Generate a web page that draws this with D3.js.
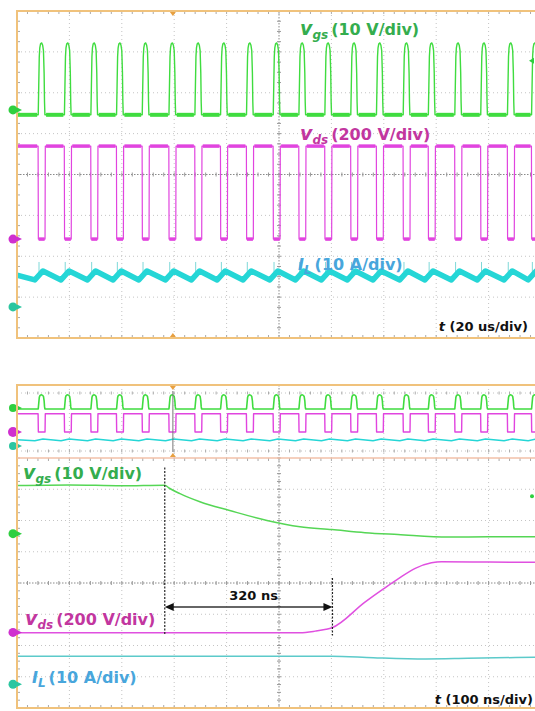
<!DOCTYPE html>
<html>
<head>
<meta charset="utf-8">
<title>Switching waveforms</title>
<script src="https://d3js.org/d3.v7.min.js"></script>
<style>
html, body { margin: 0; padding: 0; background: #fff; overflow: hidden; }
svg { display: block; font-family: "DejaVu Sans", sans-serif; }
</style>
</head>
<body>
<svg id="scope"></svg>
<script>
// ---- data ----
// gate pulse centres on the 20 us/div capture (us)
const pulseTimes = [9.4, 19.4, 29.5, 39.3, 49.1, 59.3, 69.2, 79.0, 88.9, 99.1,
                    108.9, 118.8, 128.7, 138.5, 148.7, 158.3, 168.4, 178.3, 188.5, 197.7];
// one switching event, [us from pulse centre, value]
const vgsPulse = [[-1.3, -1.2], [-1.1, 6], [-0.9, 13], [-0.7, 15.2], [-0.4, 16.2], [0, 16.4],
                  [0.4, 15.8], [0.7, 14.5], [0.95, 9], [1.1, 2], [1.25, -1.2]];
const vgsLow = -1.2;
const vdsPulse = [[-1.35, 455], [-1.25, 0], [1.3, 0], [1.4, 455]];
const vdsHigh = 455;
const ilPulse = [[-2.6, 6.6], [0.5, 8.8]];
const ilStart = [0, 7.8], ilEnd = [200, 8.2];
const ilSpike = [-1.0, 7.6, 11.0]; // rel time, base, top (A)
const triggerTime = 59.5; // us
const trigLevel = 12;     // V

// zoomed turn-off, [ns, value]
const vgsOff = [[0, 15.4], [100, 15.6], [200, 15.3], [282, 15.5], [290, 14.6], [311, 12.8],
                [349, 10.2], [406, 7.4], [477, 4.2], [540, 2.2], [601, 1.3], [664, 0.3],
                [727, -0.3], [823, -1.1], [900, -1.0], [1000, -1.0]];
const vdsOff = [[0, -3], [300, -3], [540, -2], [569, 8], [590, 20], [601, 30], [664, 194],
                [700, 280], [728, 344], [760, 410], [791, 445], [810, 452], [900, 450], [1000, 448]];
const ilOff = [[0, 9.0], [300, 9.0], [600, 9.0], [680, 8.5], [780, 8.1], [860, 8.3], [1000, 8.7]];
const turnOff = 282, delayNs = 320;

// ---- layout ----
const W = 535, H = 711;
const X0 = 17, X1 = 541;
const topBox = {y0: 11, y1: 338};
const ovBox = {y0: 385, y1: 458};
const zmBox = {y0: 458, y1: 708};

const ch = {
  vgs: {perDiv: 10, offset: 1.58, trace: "#3fdc3f", label: "#34ad4e", marker: "#2fcf3f", ov: 408},
  vds: {perDiv: 200, offset: -1.58, trace: "#e144df", label: "#c2369f", marker: "#cf2fcf", ov: 432},
  il: {perDiv: 10, offset: -3.24, trace: "#25d6d6", label: "#48a6dc", marker: "#2cc6a0", ov: 446}
};

const svg = d3.select("#scope").attr("width", W).attr("height", H);
svg.append("rect").attr("width", W).attr("height", H).attr("fill", "#fff");

const xUs = d3.scaleLinear().domain([0, 200]).range([X0, X1]);
const xNs = d3.scaleLinear().domain([0, 1000]).range([X0, X1]);
const yTop = d3.scaleLinear().domain([-4, 4]).range([topBox.y1, topBox.y0]);
const yZm = d3.scaleLinear().domain([-4, 4]).range([zmBox.y1, zmBox.y0]);

function chScale(yDiv, c) {
  return v => yDiv(c.offset + v / c.perDiv);
}
function ovScale(c) {
  return d3.scaleLinear().domain([0, c.perDiv]).range([c.ov, c.ov - 8]);
}

const defs = svg.append("defs");
function clip(id, y0, y1) {
  defs.append("clipPath").attr("id", id).append("rect")
    .attr("x", X0).attr("y", y0).attr("width", X1 - X0).attr("height", y1 - y0);
  return "url(#" + id + ")";
}

// grid with dotted divisions, darker centre lines and minor ticks
function grid(y0, y1, ny) {
  const g = svg.append("g");
  const dx = (X1 - X0) / 10, dy = (y1 - y0) / ny;
  const cx = X0 + 5 * dx, cy = y0 + ny / 2 * dy;
  for (let i = 1; i < 10; i++) {
    g.append("line").attr("x1", X0 + i * dx).attr("x2", X0 + i * dx).attr("y1", y0).attr("y2", y1)
      .attr("stroke", i === 5 ? "#8a8a8a" : "#c4c4c4")
      .attr("stroke-dasharray", i === 5 ? "1.5,1.5" : "1,3");
  }
  for (let j = 1; j < ny; j++) {
    g.append("line").attr("x1", X0).attr("x2", X1).attr("y1", y0 + j * dy).attr("y2", y0 + j * dy)
      .attr("stroke", j === ny / 2 ? "#8a8a8a" : "#c4c4c4")
      .attr("stroke-dasharray", j === ny / 2 ? "1.5,1.5" : "1,3");
  }
  for (let k = 0; k <= 50; k++) {
    const x = X0 + k * dx / 5;
    g.append("line").attr("x1", x).attr("x2", x).attr("y1", cy - 2).attr("y2", cy + 2).attr("stroke", "#999");
    g.append("line").attr("x1", x).attr("x2", x).attr("y1", y0).attr("y2", y0 + 3).attr("stroke", "#aaa");
    g.append("line").attr("x1", x).attr("x2", x).attr("y1", y1 - 3).attr("y2", y1).attr("stroke", "#aaa");
  }
  for (let k = 0; k <= ny * 4; k++) {
    const y = y0 + k * dy / 4;
    g.append("line").attr("x1", cx - 2).attr("x2", cx + 2).attr("y1", y).attr("y2", y).attr("stroke", "#999");
    g.append("line").attr("x1", X0).attr("x2", X0 + 3).attr("y1", y).attr("y2", y).attr("stroke", "#aaa");
  }
}

// periodic trace built from the pulse list
function periodic(shape, start, end) {
  const pts = [start];
  pulseTimes.forEach(tc => shape.forEach(([dt, v]) => pts.push([tc + dt, v])));
  pts.push(end);
  return pts;
}
function plateaus(pad, level) {
  const segs = [];
  const edges = [-Infinity, ...pulseTimes, Infinity];
  for (let i = 0; i < edges.length - 1; i++) {
    const a = Math.max(0, edges[i] + pad), b = Math.min(200, edges[i + 1] - pad);
    if (b > a) segs.push([[a, level], [b, level]]);
  }
  return segs;
}

function trace(g, pts, x, y, color, width, curve) {
  const line = d3.line().x(d => x(d[0])).y(d => y(d[1]));
  if (curve) line.curve(curve);
  g.append("path").attr("d", line(pts)).attr("fill", "none")
    .attr("stroke", color).attr("stroke-width", width).attr("stroke-linejoin", "round");
}

function groundMarker(y, color, r) {
  svg.append("circle").attr("cx", 13).attr("cy", y).attr("r", r || 4.5).attr("fill", color);
  svg.append("path").attr("d", `M17,${y - 2.5}L22,${y}L17,${y + 2.5}Z`).attr("fill", color);
}

function trigTri(x, y, down) {
  const s = down ? 1 : -1;
  svg.append("path").attr("d", `M${x - 3},${y}L${x + 3},${y}L${x},${y + 4 * s}Z`).attr("fill", "#e8a040");
}

function chLabel(x, y, sym, sub, rest, color) {
  const t = svg.append("text").attr("x", x).attr("y", y).attr("fill", color).attr("font-weight", "bold");
  t.append("tspan").attr("font-style", "italic").attr("font-size", sym === "I" ? 16 : 19).text(sym);
  t.append("tspan").attr("font-style", "italic").attr("font-size", 12).attr("dy", 4).text(sub);
  t.append("tspan").attr("font-size", 16).attr("dy", -4).attr("dx", 3).text(rest);
}
function timeLabel(x, y, rest) {
  const t = svg.append("text").attr("x", x).attr("y", y).attr("text-anchor", "end")
    .attr("font-size", 13).attr("font-weight", "bold").attr("fill", "#111");
  t.append("tspan").attr("font-style", "italic").text("t");
  t.append("tspan").text(" " + rest);
}

// ================= top capture (20 us/div) =================
grid(topBox.y0, topBox.y1, 8);
const gTop = svg.append("g").attr("clip-path", clip("cTop", topBox.y0, topBox.y1));
const yVgs = chScale(yTop, ch.vgs), yVds = chScale(yTop, ch.vds), yIl = chScale(yTop, ch.il);

trace(gTop, periodic(vgsPulse, [0, vgsLow], [200, vgsLow]), xUs, yVgs, ch.vgs.trace, 1.4);
plateaus(1.7, vgsLow).forEach(s => trace(gTop, s, xUs, yVgs, ch.vgs.trace, 4));
trace(gTop, periodic(vdsPulse, [0, vdsHigh], [200, vdsHigh]), xUs, yVds, ch.vds.trace, 1.2);
plateaus(1.7, vdsHigh).forEach(s => trace(gTop, s, xUs, yVds, ch.vds.trace, 3.5));
pulseTimes.forEach(tc => trace(gTop, [[tc - 1.15, 0], [tc + 1.15, 0]], xUs, yVds, ch.vds.trace, 3.5));
pulseTimes.forEach(tc => trace(gTop, [[tc + ilSpike[0], ilSpike[1]], [tc + ilSpike[0], ilSpike[2]]],
  xUs, yIl, "#7fd8d8", 1));
trace(gTop, [ilStart, ...periodic(ilPulse, ilStart, ilEnd).slice(1)], xUs, yIl, ch.il.trace, 5.5);

svg.append("rect").attr("x", X0).attr("y", topBox.y0).attr("width", X1 - X0).attr("height", topBox.y1 - topBox.y0)
  .attr("fill", "none").attr("stroke", "#f0c27c").attr("stroke-width", 2);
trigTri(xUs(triggerTime), topBox.y0 + 1, true);
trigTri(xUs(triggerTime), topBox.y1 - 1, false);
svg.append("path").attr("d", `M534,${yVgs(trigLevel) - 3}L529,${yVgs(trigLevel)}L534,${yVgs(trigLevel) + 3}Z`)
  .attr("fill", ch.vgs.marker);

groundMarker(yVgs(0), ch.vgs.marker);
groundMarker(yVds(0), ch.vds.marker);
groundMarker(yIl(0), ch.il.marker);

chLabel(300, 35, "v", "gs", "(10 V/div)", ch.vgs.label);
chLabel(300, 140, "v", "ds", "(200 V/div)", ch.vds.label);
chLabel(298, 270, "I", "L", "(10 A/div)", ch.il.label);
timeLabel(528, 331, "(20 us/div)");

// ================= bottom capture: overview strip + 100 ns/div zoom =================
// overview strip grid
(function () {
  const g = svg.append("g");
  const dx = (X1 - X0) / 10;
  for (let i = 1; i < 10; i++) {
    g.append("line").attr("x1", X0 + i * dx).attr("x2", X0 + i * dx).attr("y1", ovBox.y0).attr("y2", ovBox.y1)
      .attr("stroke", i === 5 ? "#8a8a8a" : "#c4c4c4").attr("stroke-dasharray", i === 5 ? "1.5,1.5" : "1,3");
  }
  [393, 451].forEach(y => {
    g.append("line").attr("x1", X0).attr("x2", X1).attr("y1", y).attr("y2", y)
      .attr("stroke", "#c4c4c4").attr("stroke-dasharray", "1,3");
    for (let k = 0; k <= 50; k++) {
      const x = X0 + k * dx / 5;
      g.append("line").attr("x1", x).attr("x2", x).attr("y1", y - 1.5).attr("y2", y + 1.5).attr("stroke", "#aaa");
    }
  });
})();
const gOv = svg.append("g").attr("clip-path", clip("cOv", ovBox.y0, ovBox.y1));
trace(gOv, periodic(vgsPulse, [0, vgsLow], [200, vgsLow]), xUs, ovScale(ch.vgs), ch.vgs.trace, 1.6);
trace(gOv, periodic(vdsPulse, [0, vdsHigh], [200, vdsHigh]), xUs, ovScale(ch.vds), ch.vds.trace, 1.4);
trace(gOv, [ilStart, ...periodic(ilPulse, ilStart, ilEnd).slice(1)], xUs, ovScale(ch.il), ch.il.trace, 1.4);
svg.append("line").attr("x1", xUs(triggerTime)).attr("x2", xUs(triggerTime))
  .attr("y1", ovBox.y0 + 6).attr("y2", ovBox.y1 - 6).attr("stroke", "#777").attr("stroke-width", 1);
trigTri(xUs(triggerTime), ovBox.y0 + 1, true);
trigTri(xUs(triggerTime), ovBox.y1 - 1, false);
groundMarker(ch.vgs.ov, ch.vgs.marker, 4);
groundMarker(ch.vds.ov, ch.vds.marker, 5);
groundMarker(ch.il.ov, ch.il.marker, 4);

// zoom window
grid(zmBox.y0, zmBox.y1, 8);
const gZm = svg.append("g").attr("clip-path", clip("cZm", zmBox.y0, zmBox.y1));
const zVgs = chScale(yZm, ch.vgs), zVds = chScale(yZm, ch.vds), zIl = chScale(yZm, ch.il);
trace(gZm, vgsOff, xNs, zVgs, "#55d655", 1.5, d3.curveMonotoneX);
trace(gZm, vdsOff, xNs, zVds, "#e050e0", 1.5, d3.curveMonotoneX);
trace(gZm, ilOff, xNs, zIl, "#5ccaca", 1.5, d3.curveMonotoneX);

// 320 ns annotation
const xa = xNs(turnOff), xb = xNs(turnOff + delayNs), ya = 607;
svg.append("line").attr("x1", xa).attr("x2", xa).attr("y1", zVgs(15.4) - 18).attr("y2", zVds(0) + 3)
  .attr("stroke", "#222").attr("stroke-width", 1.2).attr("stroke-dasharray", "2,1.5");
svg.append("line").attr("x1", xb).attr("x2", xb).attr("y1", 578).attr("y2", zVds(0) + 3)
  .attr("stroke", "#222").attr("stroke-width", 1.2).attr("stroke-dasharray", "2,1.5");
svg.append("line").attr("x1", xa + 6).attr("x2", xb - 6).attr("y1", ya).attr("y2", ya)
  .attr("stroke", "#333").attr("stroke-width", 1.5);
svg.append("path").attr("d", `M${xa},${ya}L${xa + 9},${ya - 4}L${xa + 9},${ya + 4}Z`).attr("fill", "#111");
svg.append("path").attr("d", `M${xb},${ya}L${xb - 9},${ya - 4}L${xb - 9},${ya + 4}Z`).attr("fill", "#111");
svg.append("text").attr("x", (xa + xb) / 2 + 5).attr("y", 600).attr("text-anchor", "middle")
  .attr("font-size", 13).attr("font-weight", "bold").attr("fill", "#111").text(delayNs + " ns");

svg.append("rect").attr("x", X0).attr("y", ovBox.y0).attr("width", X1 - X0).attr("height", zmBox.y1 - ovBox.y0)
  .attr("fill", "none").attr("stroke", "#f0c27c").attr("stroke-width", 2);
svg.append("line").attr("x1", X0).attr("x2", X1).attr("y1", ovBox.y1).attr("y2", ovBox.y1)
  .attr("stroke", "#f2c0a8").attr("stroke-width", 1.5);
svg.append("circle").attr("cx", 532).attr("cy", zVgs(trigLevel)).attr("r", 2).attr("fill", ch.vgs.marker);

groundMarker(zVgs(0), ch.vgs.marker);
groundMarker(zVds(0), ch.vds.marker);
groundMarker(zIl(0), ch.il.marker);

chLabel(23, 479, "v", "gs", "(10 V/div)", ch.vgs.label);
chLabel(25, 625, "v", "ds", "(200 V/div)", ch.vds.label);
chLabel(32, 683, "I", "L", "(10 A/div)", ch.il.label);
timeLabel(533, 704, "(100 ns/div)");
</script>
</body>
</html>
